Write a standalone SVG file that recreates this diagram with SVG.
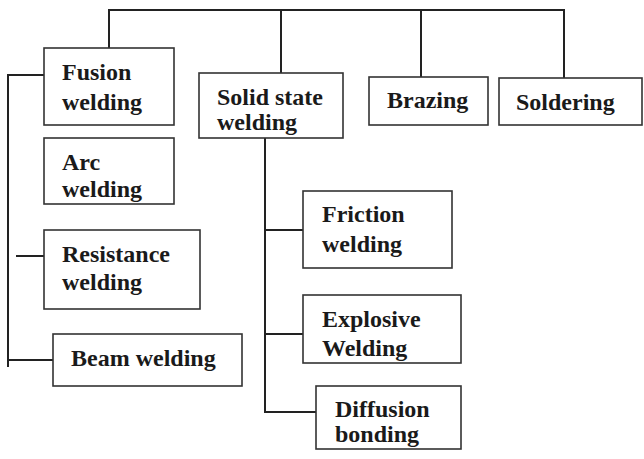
<svg xmlns="http://www.w3.org/2000/svg" width="644" height="459" viewBox="0 0 644 459">
<style>
.box{fill:#fff;stroke:#333;stroke-width:1.6}
.ln{fill:none;stroke:#222;stroke-width:2}
text{font-family:"Liberation Serif","Times New Roman",serif;font-weight:bold;font-size:24px;fill:#1a1a1a}
</style>
<rect width="644" height="459" fill="#fff"/>
<g id="connectors">
<path class="ln" d="M109 48V10H564V78M281 10V73M421 10V77"/>
<path class="ln" d="M52 75H8V367M8 360H53M16 256H44"/>
<path class="ln" d="M265 138V412H316M265 230H303M265 334H303"/>
</g>
<g id="fusion"><rect class="box" x="44" y="48" width="130" height="77"/><text x="62" y="80">Fusion</text><text x="62" y="110">welding</text></g>
<g id="arc"><rect class="box" x="44" y="138" width="130" height="66"/><text x="62" y="170">Arc</text><text x="62" y="197">welding</text></g>
<g id="resistance"><rect class="box" x="44" y="230" width="156" height="79"/><text x="62" y="262">Resistance</text><text x="62" y="290">welding</text></g>
<g id="beam"><rect class="box" x="53" y="334" width="189" height="52"/><text x="71" y="366">Beam welding</text></g>
<g id="solid"><rect class="box" x="199" y="73" width="144" height="65"/><text x="217" y="105">Solid state</text><text x="217" y="130">welding</text></g>
<g id="brazing"><rect class="box" x="369" y="77" width="119" height="48"/><text x="387" y="108">Brazing</text></g>
<g id="soldering"><rect class="box" x="499" y="78" width="143" height="47"/><text x="516" y="110">Soldering</text></g>
<g id="friction"><rect class="box" x="303" y="191" width="149" height="77"/><text x="322" y="222">Friction</text><text x="322" y="252">welding</text></g>
<g id="explosive"><rect class="box" x="303" y="295" width="158" height="68"/><text x="322" y="327">Explosive</text><text x="322" y="356">Welding</text></g>
<g id="diffusion"><rect class="box" x="316" y="386" width="145" height="63"/><text x="335" y="417">Diffusion</text><text x="335" y="442">bonding</text></g>
</svg>
